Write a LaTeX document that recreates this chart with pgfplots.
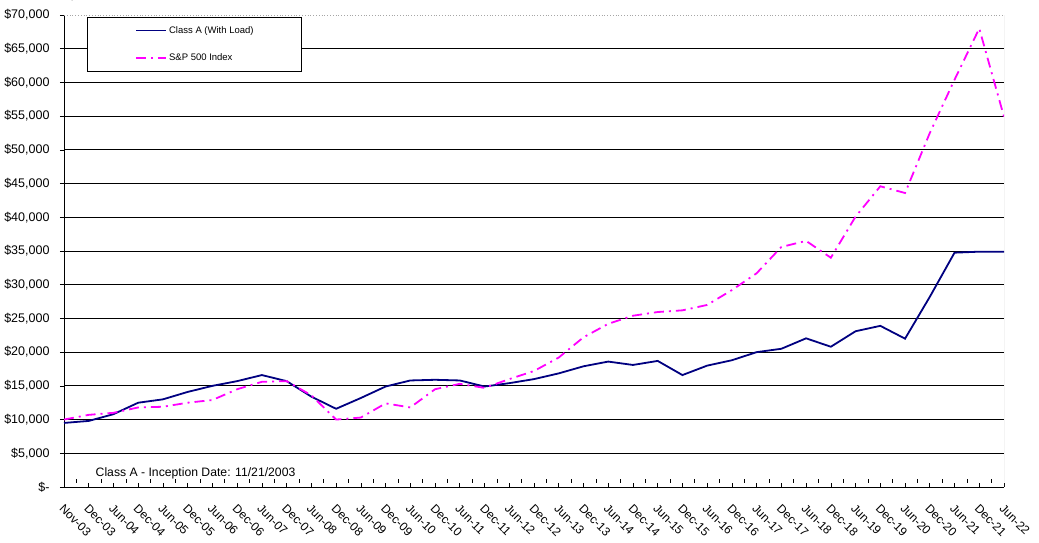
\documentclass[border=0pt]{standalone}
\usepackage{pgfplots}
\pgfplotsset{compat=1.18}
\usepackage{pgfplotstable}
\usepackage{fontspec}
\setmainfont{Liberation Sans}
\definecolor{navy}{RGB}{0,0,128}
\definecolor{mag}{RGB}{255,0,255}
\pgfplotstableread{
i classa sp
0 9500 10000
1 9800 10700
2 10800 11000
3 12500 11800
4 13000 11900
5 14100 12500
6 15000 12900
7 15700 14500
8 16600 15600
9 15700 15700
10 13400 13600
11 11600 10000
12 13200 10300
13 14900 12400
14 15800 11800
15 15900 14500
16 15800 15300
17 14900 14700
18 15400 16000
19 16000 17200
20 16850 19200
21 17900 22200
22 18600 24200
23 18100 25400
24 18700 25950
25 16600 26200
26 18000 27000
27 18800 29200
28 20000 31700
29 20500 35600
30 22050 36500
31 20800 34000
32 23100 40100
33 23900 44600
34 22000 43600
35 28200 52500
36 34750 60400
37 34900 68000
38 34900 54900
}\datatable
\begin{document}
\begin{tikzpicture}
\path[use as bounding box] (-64pt,-56pt) rectangle (975pt,487pt);
\begin{axis}[
  at={(0pt,0pt)}, anchor=south west,
  scale only axis, width=940pt, height=472pt,
  xmin=0, xmax=38, ymin=0, ymax=70000,
  axis lines*=left,
  axis line style={black, line width=0.8pt},
  tick align=outside,
  xtick={0,...,38},
  minor x tick num=1,
  xticklabels={Nov-03,Dec-03,Jun-04,Dec-04,Jun-05,Dec-05,Jun-06,Dec-06,Jun-07,Dec-07,Jun-08,Dec-08,Jun-09,Dec-09,Jun-10,Dec-10,Jun-11,Dec-11,Jun-12,Dec-12,Jun-13,Dec-13,Jun-14,Dec-14,Jun-15,Dec-15,Jun-16,Dec-16,Jun-17,Dec-17,Jun-18,Dec-18,Jun-19,Dec-19,Jun-20,Dec-20,Jun-21,Dec-21,Jun-22},
  xticklabel style={rotate=-45, anchor=north west, font=\fontsize{12}{13}\selectfont, xshift=6pt, yshift=-5pt},
  major tick length=4pt, minor tick length=4pt,
  every x tick/.append style={yshift=4pt, black, line width=0.6pt},
  every minor x tick/.append style={yshift=4pt, black, line width=0.6pt},
  ytick={0,5000,...,65000},
  yticklabels={{\$-},{\$5,000},{\$10,000},{\$15,000},{\$20,000},{\$25,000},{\$30,000},{\$35,000},{\$40,000},{\$45,000},{\$50,000},{\$55,000},{\$60,000},{\$65,000}},
  extra y ticks={70000},
  extra y tick labels={\$70{,}000},
  extra y tick style={grid=none},
  yticklabel style={font=\fontsize{12.5}{14}\selectfont, xshift=-7pt},
  every y tick/.append style={black, line width=0.6pt},
  ymajorgrids,
  major grid style={black, line width=0.8pt},
  legend style={at={(axis description cs:0.0245,0.9958)}, anchor=north west,
    draw=black, line width=0.6pt, fill=white, inner xsep=0pt, inner ysep=7pt,
    font=\fontsize{9.5}{11}\selectfont, row sep=15pt},
  legend cell align=left,
  legend image code/.code={\path (0pt,0pt) -- (0pt,0pt); \draw[#1] (48pt,0pt) -- (78pt,0pt);},
]
\addplot[navy, line width=1.8pt] table[x=i, y=classa] {\datatable};
\addlegendentry{Class A (With Load)\hspace*{46pt}}
\addplot[mag, line width=1.8pt, dash pattern=on 10pt off 5pt on 2pt off 5pt] table[x=i, y=sp] {\datatable};
\addlegendentry{S\&P 500 Index}
\draw[gray!70, line width=0.8pt, dotted] (rel axis cs:0,1) -- (rel axis cs:1,1);
\draw[gray!70, line width=0.8pt] (rel axis cs:1,1) -- (rel axis cs:1,0);
\node[anchor=west, font=\fontsize{12.2}{14}\selectfont] at (rel axis cs:0.030,0.0297) {Class A - Inception Date: 11/21/2003};
\end{axis}
\end{tikzpicture}
\end{document}
